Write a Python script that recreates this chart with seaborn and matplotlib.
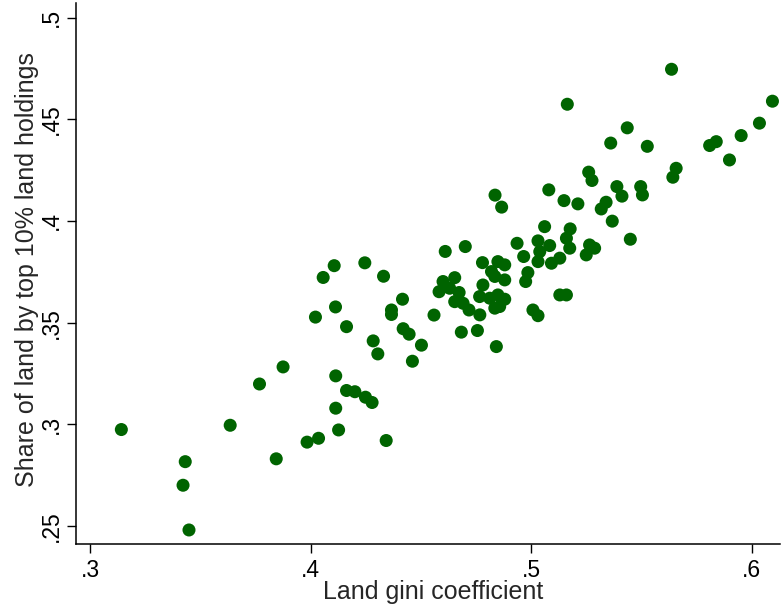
import matplotlib
matplotlib.use("Agg")
import matplotlib.pyplot as plt
import seaborn as sns
import pandas as pd

# Data
land_gini = [
    0.314, 0.343, 0.342, 0.3447, 0.3634, 0.3767, 0.3843, 0.3874, 0.3983, 0.4035,
    0.4021, 0.4056, 0.4106, 0.4112, 0.4113, 0.4113, 0.4126, 0.4162, 0.4162, 0.420,
    0.4245, 0.4248, 0.4278, 0.4283, 0.4304, 0.433, 0.4342, 0.4366, 0.4366, 0.4416,
    0.4419, 0.4446, 0.4461, 0.4502, 0.4559, 0.4582, 0.460, 0.461, 0.463, 0.4653,
    0.4673, 0.4653, 0.4691, 0.4701, 0.4718, 0.4683, 0.4756, 0.4767, 0.4766, 0.4781,
    0.4779, 0.4812, 0.482, 0.4835, 0.4849, 0.488, 0.488, 0.4849, 0.488, 0.4835,
    0.4857, 0.4842, 0.4836, 0.4866, 0.4936, 0.4966, 0.4985, 0.4975, 0.5008, 0.5031,
    0.5031, 0.5039, 0.5031, 0.5084, 0.5092, 0.513, 0.5061, 0.508, 0.513, 0.516,
    0.5149, 0.5164, 0.5177, 0.516, 0.5175, 0.5212, 0.525, 0.5265, 0.5288, 0.5261,
    0.5276, 0.5318, 0.534, 0.5361, 0.5368, 0.5389, 0.5412, 0.5436, 0.545, 0.5497,
    0.5505, 0.5527, 0.5637, 0.5643, 0.5658, 0.581, 0.584, 0.590, 0.5953, 0.6036,
    0.6095,
]
top10_share = [
    0.2974, 0.2816, 0.270, 0.248, 0.2995, 0.3198, 0.283, 0.3282, 0.2912, 0.2931,
    0.3527, 0.3722, 0.378, 0.3577, 0.3238, 0.3079, 0.2972, 0.348, 0.3166, 0.316,
    0.3794, 0.3133, 0.3107, 0.341, 0.3346, 0.3728, 0.292, 0.3562, 0.354, 0.3615,
    0.347, 0.3443, 0.331, 0.3389, 0.3537, 0.3652, 0.3702, 0.385, 0.3669, 0.3721,
    0.3648, 0.3603, 0.3595, 0.3874, 0.3562, 0.3453, 0.3461, 0.3538, 0.3628, 0.3685,
    0.3795, 0.362, 0.3751, 0.3727, 0.380, 0.3784, 0.371, 0.3636, 0.3615, 0.3571,
    0.3579, 0.3382, 0.4127, 0.4068, 0.389, 0.3825, 0.3746, 0.3702, 0.3562, 0.3534,
    0.3902, 0.3849, 0.380, 0.3879, 0.3792, 0.3817, 0.3972, 0.4153, 0.3636, 0.3636,
    0.410, 0.4574, 0.3961, 0.3915, 0.3866, 0.4084, 0.3833, 0.3882, 0.3866, 0.424,
    0.4199, 0.4059, 0.4092, 0.4383, 0.3999, 0.4169, 0.4122, 0.4458, 0.391, 0.4169,
    0.4128, 0.4367, 0.4746, 0.4215, 0.4259, 0.4371, 0.439, 0.430, 0.442, 0.4481,
    0.4589,
]
x_ticks = [0.3, 0.4, 0.5, 0.6]
x_tick_labels = [".3", ".4", ".5", ".6"]
y_ticks = [0.25, 0.3, 0.35, 0.4, 0.45, 0.5]
y_tick_labels = [".25", ".3", ".35", ".4", ".45", ".5"]
x_label = "Land gini coefficient"
y_label = "Share of land by top 10% land holdings"

df = pd.DataFrame({"gini": land_gini, "share": top10_share})

sns.set_style("ticks")
plt.rcParams["font.family"] = ["Liberation Sans", "DejaVu Sans"]

fig = plt.figure(figsize=(7.81, 6.08), dpi=100)
ax = fig.add_axes([76 / 781, 64 / 608, 704 / 781, 541 / 608])

sns.scatterplot(data=df, x="gini", y="share", ax=ax, color="#006400",
                s=88, edgecolor="none", linewidth=0, clip_on=False)

ax.set_xlim(0.29342, 0.61293)
ax.set_ylim(0.2411, 0.5072)
ax.set_xticks(x_ticks)
ax.set_xticklabels(x_tick_labels)
ax.set_yticks(y_ticks)
ax.set_yticklabels(y_tick_labels, rotation=90, va="center")

ax.tick_params(axis="both", direction="out", length=6.5, width=1.0,
               color="black", labelsize=16.5, labelcolor="black")
ax.tick_params(axis="x", pad=4)
ax.tick_params(axis="y", pad=3)

for side in ["top", "right"]:
    ax.spines[side].set_visible(False)
for side in ["left", "bottom"]:
    ax.spines[side].set_linewidth(1.1)
    ax.spines[side].set_color("black")

ax.set_xlabel(x_label, fontsize=18)
ax.set_ylabel(y_label, fontsize=18)
ax.xaxis.label.set_va("center")
ax.yaxis.label.set_va("center")
ax.xaxis.set_label_coords(0.5 * (433 - 76) / 704 * 2 - 0.5 + 0.5, -48 / 541)
ax.yaxis.set_label_coords(-49 / 704, (544 - 270) / 541)
ax.grid(False)

fig.savefig("out.png", dpi=100, facecolor="white")
